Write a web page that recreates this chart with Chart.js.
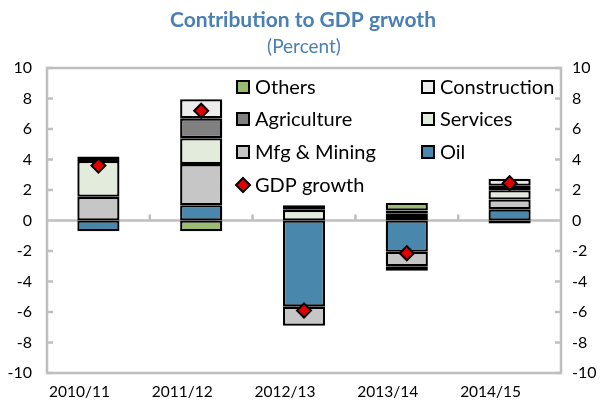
<!DOCTYPE html>
<html lang="en">
<head>
  <meta charset="UTF-8">
  <title>Contribution to GDP growth</title>
  <script src="https://cdn.jsdelivr.net/npm/chart.js"></script>
  <style>
    body { margin: 0; padding: 0; background: #fff; }
    #wrap { width: 602px; height: 407px; }
  </style>
</head>
<body>
  <div id="wrap"><canvas id="gdpChart"></canvas></div>

  <script>
    // data
    const years = ['2010/11', '2011/12', '2012/13', '2013/14', '2014/15'];
    const oil = [-0.7, 1.0, -5.65, -2.05, 0.73];
    const mfgMining = [1.55, 2.7, -1.25, -0.95, 0.65];
    const services = [2.35, 1.7, 0.7, 0.3, 0.6];
    const agriculture = [0.3, 1.3, 0.3, 0.15, 0.3];
    const construction = [null, 1.25, null, 0.2, 0.45];
    const constructionNeg = [null, null, null, -0.3, null];
    const others = [null, -0.7, null, 0.5, -0.2];
    const gdpGrowth = [3.6, 7.2, -5.9, -2.15, 2.45];

    const FONT = 'Lato, "Open Sans", sans-serif';
    const AXIS_GRAY = '#bfbfbf';

    function barSet(label, data, color) {
      return {
        type: 'bar',
        label: label,
        data: data,
        backgroundColor: color,
        borderColor: '#000',
        borderWidth: 2.3,
        borderSkipped: false,
        stack: 'parts',
        categoryPercentage: 1,
        barPercentage: 0.41,
        order: 2
      };
    }

    // title, legend, box, zero line and tick marks
    const decor = {
      id: 'decor',
      beforeDatasetsDraw(chart) {
        const { ctx, chartArea: a, scales } = chart;
        const y0 = scales.y.getPixelForValue(0);
        ctx.save();
        ctx.strokeStyle = AXIS_GRAY;
        ctx.lineWidth = 2.5;
        ctx.strokeRect(a.left, a.top, a.right - a.left, a.bottom - a.top);
        ctx.beginPath();
        ctx.moveTo(a.left, y0);
        ctx.lineTo(a.right, y0);
        scales.y.ticks.forEach(t => {
          const py = scales.y.getPixelForValue(t.value);
          ctx.moveTo(a.left, py); ctx.lineTo(a.left + 6, py);
          ctx.moveTo(a.right, py); ctx.lineTo(a.right - 6, py);
        });
        for (let i = 0; i < years.length - 1; i++) {
          const px = (scales.x.getPixelForValue(i) + scales.x.getPixelForValue(i + 1)) / 2;
          ctx.moveTo(px, y0); ctx.lineTo(px, y0 - 6);
        }
        ctx.stroke();
        ctx.restore();
      },
      afterDraw(chart) {
        const { ctx } = chart;
        ctx.save();
        ctx.fillStyle = '#4a7fb5';
        ctx.textAlign = 'center';
        ctx.textBaseline = 'middle';
        ctx.font = 'bold 21px ' + FONT;
        ctx.fillText('Contribution to GDP grwoth', 303, 20);
        ctx.font = '19px ' + FONT;
        ctx.fillText('(Percent)', 304, 47);

        // legend in two columns
        const items = [
          ['Others', 0, 0], ['Construction', 1, 0],
          ['Agriculture', 0, 1], ['Services', 1, 1],
          ['Mfg & Mining', 0, 2], ['Oil', 1, 2],
          ['GDP growth', 0, 3]
        ];
        const colX = [236, 421];
        const rowY = [87, 119, 152, 185];
        ctx.font = '20px ' + FONT;
        ctx.textAlign = 'left';
        items.forEach(([label, c, r]) => {
          const ds = chart.data.datasets.find(d => d.label === label);
          const x = colX[c], y = rowY[r];
          ctx.lineWidth = 2;
          ctx.strokeStyle = '#000';
          if (ds.type === 'line') {
            ctx.fillStyle = ds.pointBackgroundColor;
            ctx.beginPath();
            ctx.moveTo(x + 7, y - 7); ctx.lineTo(x + 14, y);
            ctx.lineTo(x + 7, y + 7); ctx.lineTo(x, y);
            ctx.closePath();
            ctx.fill(); ctx.stroke();
          } else {
            ctx.fillStyle = ds.backgroundColor;
            ctx.fillRect(x + 1, y - 6, 12, 12);
            ctx.strokeRect(x + 1, y - 6, 12, 12);
          }
          ctx.fillStyle = '#000';
          ctx.fillText(label, x + 19, y + 1);
        });
        ctx.restore();
      }
    };

    const ctx = document.getElementById('gdpChart').getContext('2d');
    new Chart(ctx, {
      data: {
        labels: years,
        datasets: [
          barSet('Oil', oil, '#4a87ad'),
          barSet('Mfg & Mining', mfgMining, '#c6c6c6'),
          barSet('Services', services, '#e3ebdc'),
          barSet('Agriculture', agriculture, '#808080'),
          barSet('Construction', construction, '#ececec'),
          barSet('Construction (neg)', constructionNeg, '#ececec'),
          barSet('Others', others, '#9bbb73'),
          {
            type: 'line',
            label: 'GDP growth',
            data: gdpGrowth,
            showLine: false,
            stack: 'gdp',
            pointStyle: 'rectRot',
            pointRadius: 7,
            pointBackgroundColor: '#e00000',
            pointBorderColor: '#000',
            pointBorderWidth: 2,
            order: 1
          }
        ]
      },
      options: {
        responsive: true,
        maintainAspectRatio: false,
        animation: false,
        layout: { padding: { top: 68, left: 0, right: 0, bottom: 0 } },
        scales: {
          x: {
            stacked: true,
            grid: { display: false, drawTicks: false },
            border: { display: false },
            ticks: { color: '#000', font: { family: FONT, size: 15.5 }, padding: 10, labelOffset: -19, maxRotation: 0 },
            afterFit(s) { s.height = 34; }
          },
          y: {
            stacked: true,
            position: 'left',
            min: -10, max: 10,
            grid: { display: false, drawTicks: false },
            border: { display: false },
            ticks: { stepSize: 2, color: '#000', font: { family: FONT, size: 16 }, padding: 15 },
            afterFit(s) { s.width = 47; }
          },
          y2: {
            position: 'right',
            min: -10, max: 10,
            grid: { display: false, drawTicks: false },
            border: { display: false },
            ticks: { stepSize: 2, color: '#000', font: { family: FONT, size: 16 }, padding: 11 },
            afterFit(s) { s.width = 41; }
          }
        },
        plugins: {
          legend: { display: false },
          tooltip: { enabled: false }
        }
      },
      plugins: [decor]
    });
  </script>
</body>
</html>
